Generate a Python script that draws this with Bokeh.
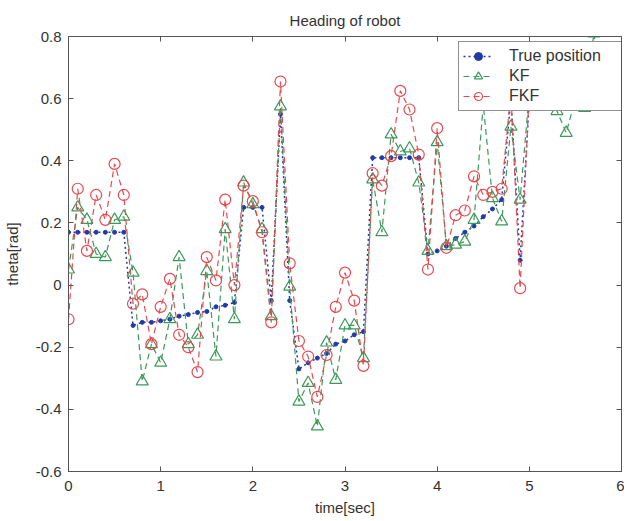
from bokeh.plotting import figure
from bokeh.models import LinearAxis, FixedTicker, Legend, LegendItem, Range1d, ColumnDataSource
from bokeh.embed import file_html
from bokeh.resources import INLINE

# ---- data ----
time_sec = [0.0, 0.1, 0.2, 0.3, 0.4, 0.5, 0.6, 0.7, 0.8, 0.9,
            1.0, 1.1, 1.2, 1.3, 1.4, 1.5, 1.6, 1.7, 1.8, 1.9,
            2.0, 2.1, 2.2, 2.3, 2.4, 2.5, 2.6, 2.7, 2.8, 2.9,
            3.0, 3.1, 3.2, 3.3, 3.4, 3.5, 3.6, 3.7, 3.8, 3.9,
            4.0, 4.1, 4.2, 4.3, 4.4, 4.5, 4.6, 4.7, 4.8, 4.9,
            5.0, 5.1, 5.2, 5.3, 5.4, 5.5, 5.6, 5.7, 5.8, 5.9]
true_position = [0.17, 0.17, 0.17, 0.17, 0.17, 0.17, 0.17, -0.13, -0.12, -0.12,
                 -0.115, -0.11, -0.10, -0.095, -0.088, -0.085, -0.07, -0.065, -0.056, 0.25,
                 0.25, 0.25, -0.05, 0.55, -0.05, -0.27, -0.25, -0.235, -0.22, -0.19,
                 -0.18, -0.16, -0.15, 0.41, 0.41, 0.41, 0.41, 0.41, 0.41, 0.10,
                 0.11, 0.125, 0.15, 0.17, 0.19, 0.22, 0.245, 0.275, 0.60, 0.08,
                 0.60, 0.60, 0.60, 0.60, 0.60, 0.60, 0.60, 0.60, 0.60, 0.60]
kf = [0.05, 0.25, 0.21, 0.10, 0.09, 0.21, 0.22, 0.04, -0.31, -0.19,
      -0.25, -0.11, 0.09, -0.19, -0.16, 0.045, -0.23, 0.18, -0.11, 0.33,
      0.26, 0.18, -0.10, 0.575, -0.005, -0.375, -0.315, -0.455, -0.185, -0.305,
      -0.13, -0.13, -0.235, 0.34, 0.17, 0.485, 0.43, 0.44, 0.33, 0.11,
      0.46, 0.125, 0.13, 0.14, 0.21, 0.58, 0.28, 0.205, 0.51, 0.275,
      0.62, 0.58, 0.60, 0.56, 0.49, 0.60, 0.57, 0.81, 0.62, 0.58]
fkf = [-0.11, 0.31, 0.11, 0.29, 0.21, 0.39, 0.29, -0.06, -0.03, -0.19,
       -0.07, 0.02, -0.16, -0.20, -0.28, 0.09, 0.015, 0.275, 0.0, 0.32,
       0.27, 0.17, -0.12, 0.655, 0.07, -0.18, -0.23, -0.36, -0.225, -0.07,
       0.04, -0.05, -0.26, 0.36, 0.32, 0.415, 0.625, 0.565, 0.42, 0.05,
       0.505, 0.12, 0.225, 0.24, 0.35, 0.29, 0.30, 0.31, 0.62, -0.01,
       0.63, 0.60, 0.61, 0.58, 0.60, 0.62, 0.59, 0.60, 0.63, 0.60]

x_ticks = [0, 1, 2, 3, 4, 5, 6]
y_ticks = [-0.6, -0.4, -0.2, 0, 0.2, 0.4, 0.6, 0.8]
y_tick_labels = ["-0.6", "-0.4", "-0.2", "0", "0.2", "0.4", "0.6", "0.8"]

BLUE = "#2438a8"
GREEN = "#3b9a5a"
RED = "#e8494f"
AXIS = "#555555"
FONT = "Liberation Sans"

src = ColumnDataSource(dict(t=time_sec, true=true_position, kf=kf, fkf=fkf))

p = figure(width=624, height=519, x_range=Range1d(0, 6), y_range=Range1d(-0.6, 0.8),
           output_backend="svg", toolbar_location=None, title="Heading of robot",
           min_border_left=67, min_border_right=3, min_border_top=36, min_border_bottom=48,
           x_axis_label="time[sec]", y_axis_label="theta[rad]")
p.xgrid.grid_line_color = None
p.ygrid.grid_line_color = None
p.outline_line_color = AXIS
p.background_fill_color = "white"

p.title.align = "center"
p.title.text_font = FONT
p.title.text_font_size = "15px"
p.title.text_font_style = "normal"
p.title.text_color = "#333333"
p.title.standoff = 15
p.title.offset = 0

for ax in p.xaxis:
    ax.ticker = FixedTicker(ticks=x_ticks)
for ax in p.yaxis:
    ax.ticker = FixedTicker(ticks=y_ticks)
    ax.major_label_overrides = dict(zip(y_ticks, y_tick_labels))

for ax in list(p.xaxis) + list(p.yaxis):
    ax.major_tick_in = 5
    ax.major_tick_out = 0
    ax.minor_tick_line_color = None
    ax.axis_line_color = AXIS
    ax.major_tick_line_color = AXIS
    ax.major_label_text_font = FONT
    ax.major_label_text_font_size = "15px"
    ax.major_label_text_color = "#333333"
    ax.axis_label_text_font = FONT
    ax.axis_label_text_font_size = "15px"
    ax.axis_label_text_font_style = "normal"
    ax.axis_label_text_color = "#333333"
p.xaxis.major_label_standoff = 9
p.xaxis.axis_label_standoff = 5
p.yaxis.major_label_standoff = 7
p.yaxis.axis_label_standoff = 12

top = LinearAxis(ticker=FixedTicker(ticks=x_ticks), major_label_text_color=None,
                 major_tick_in=5, major_tick_out=0, minor_tick_line_color=None,
                 major_label_standoff=0, axis_line_color=AXIS, major_tick_line_color=AXIS)
right = LinearAxis(ticker=FixedTicker(ticks=y_ticks), major_label_text_color=None,
                   major_tick_in=5, major_tick_out=0, minor_tick_line_color=None,
                   major_label_standoff=0, axis_line_color=AXIS, major_tick_line_color=AXIS)
p.add_layout(top, "above")
p.add_layout(right, "right")

# True position
r_tl = p.line("t", "true", source=src, line_color=BLUE, line_width=1.5, line_dash="2 3")
r_tp = p.scatter("t", "true", source=src, marker="circle", size=4,
                 fill_color=BLUE, line_color=BLUE)
# KF
r_kl = p.line("t", "kf", source=src, line_color=GREEN, line_width=1.2, line_dash="6 4")
r_kp = p.scatter("t", "kf", source=src, marker="triangle", size=12,
                 fill_color=None, line_color=GREEN, line_width=1.2)
# FKF
r_fl = p.line("t", "fkf", source=src, line_color=RED, line_width=1.2, line_dash="6 4")
r_fp = p.scatter("t", "fkf", source=src, marker="circle", size=11,
                 fill_color=None, line_color=RED, line_width=1.2)

legend = Legend(items=[
    LegendItem(label="True position", renderers=[r_tl, r_tp]),
    LegendItem(label="KF", renderers=[r_kl, r_kp]),
    LegendItem(label="FKF", renderers=[r_fl, r_fp]),
], location=(390, 360))
legend.margin = 0
legend.padding = 4
legend.spacing = 0
legend.glyph_width = 30
legend.glyph_height = 20
legend.label_height = 20
legend.label_width = 113
legend.label_standoff = 16
legend.label_text_font = FONT
legend.label_text_font_size = "16px"
legend.label_text_color = "#333333"
legend.border_line_color = "#222222"
legend.border_line_width = 1
legend.background_fill_color = "white"
legend.background_fill_alpha = 1
p.add_layout(legend)

open("out.html", "w").write(file_html(p, INLINE))
